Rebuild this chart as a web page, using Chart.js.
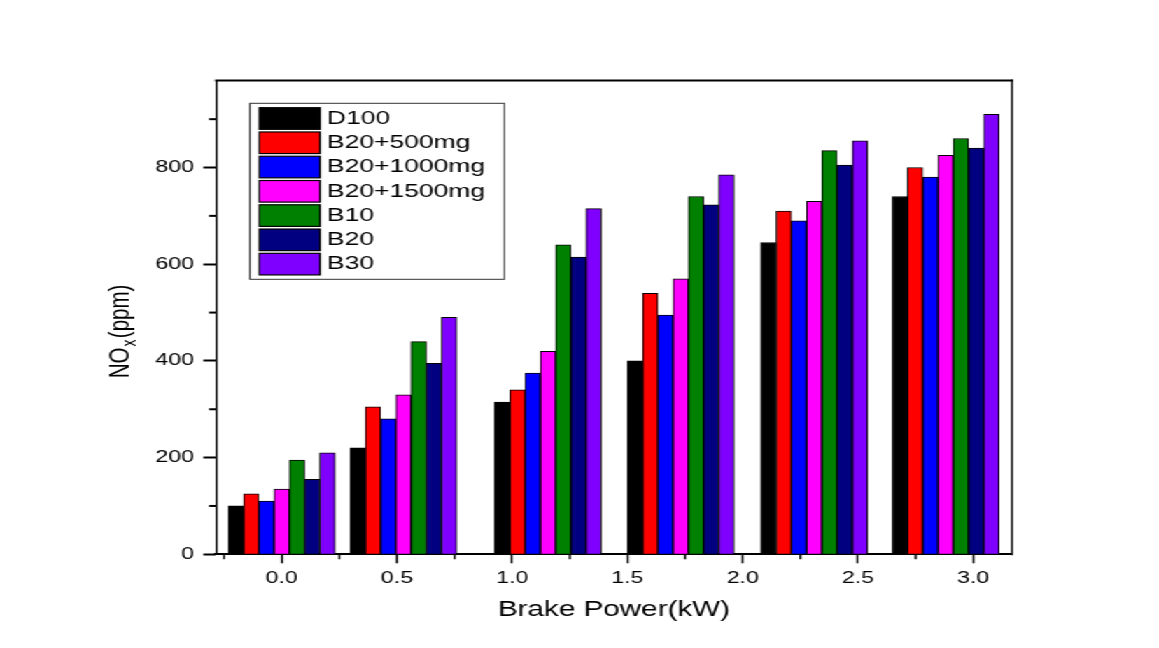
<!DOCTYPE html>
<html>
<head>
<meta charset="utf-8">
<script src="https://cdn.jsdelivr.net/npm/chart.js@4.4.1/dist/chart.umd.min.js"></script>
<style>
html,body{margin:0;padding:0;background:#fff;overflow:hidden;width:1159px;height:648px;}
#wrap{position:absolute;left:0;top:0;width:828px;height:648px;transform:scaleX(1.399758);transform-origin:0 0;background:#fff;}
canvas{display:block;}
</style>
</head>
<body>
<div id="wrap"><canvas id="c"></canvas></div>
<script>
// ---- data ----
const brakePower = [0, 0.528, 1.155, 1.731, 2.310, 2.880];
const seriesNames = ['D100', 'B20+500mg', 'B20+1000mg', 'B20+1500mg', 'B10', 'B20', 'B30'];
const D100     = [100, 220, 315, 400, 645, 740];
const B20_500  = [125, 305, 340, 540, 710, 800];
const B20_1000 = [110, 280, 375, 495, 690, 780];
const B20_1500 = [135, 330, 420, 570, 730, 825];
const B10      = [195, 440, 640, 740, 835, 860];
const B20      = [155, 395, 615, 723, 805, 840];
const B30      = [210, 490, 715, 785, 855, 910];
const seriesValues = [D100, B20_500, B20_1000, B20_1500, B10, B20, B30];
const seriesColors = ['#000000', '#FF0000', '#0000FF', '#FF00FF', '#008000', '#000080', '#8000FF'];

const xTicks = [0, 0.5, 1.0, 1.5, 2.0, 2.5, 3.0];
const xTickLabels = ['0.0', '0.5', '1.0', '1.5', '2.0', '2.5', '3.0'];
const xMinorTicks = [-0.25, 0.25, 0.75, 1.25, 1.75, 2.25, 2.75];
const yTicks = [0, 200, 400, 600, 800];
const yTickLabels = ['0', '200', '400', '600', '800'];
const yMinorTicks = [100, 300, 500, 700, 900];
const xTitle = 'Brake Power(kW)';
const yTitleMain = 'NO', yTitleSub = 'x', yTitleRest = '(ppm)';

// ---- layout (canvas is drawn narrow and stretched horizontally) ----
const STRETCH = 1159 / 828;
const FONT = "'Liberation Sans', Arial, Helvetica, sans-serif";
const AREA = { left: 216 / STRETCH, right: 1012 / STRETCH, top: 80.5, bottom: 554.3 };

const datasets = seriesNames.map((name, k) => ({
  label: name,
  data: brakePower.map((x, i) => ({ x: x, y: seriesValues[k][i] })),
  backgroundColor: seriesColors[k],
  borderColor: '#000',
  borderWidth: 1,
  barThickness: 15.24 / STRETCH
}));

const framePlugin = {
  id: 'frame',
  afterDraw(chart) {
    const { ctx, chartArea: a } = chart;
    const xs = chart.scales.x, ys = chart.scales.y;
    ctx.save();
    ctx.strokeStyle = '#000';
    ctx.lineWidth = 2;
    ctx.beginPath(); ctx.moveTo(a.left - 0.7, a.top); ctx.lineTo(a.right + 0.7, a.top); ctx.stroke();
    ctx.lineWidth = 2 / STRETCH;
    ctx.beginPath(); ctx.moveTo(a.right, a.top - 1); ctx.lineTo(a.right, a.bottom + 1); ctx.stroke();
    // minor ticks
    ctx.lineWidth = 2 / STRETCH;
    xMinorTicks.forEach(v => {
      const p = xs.getPixelForValue(v);
      if (p < a.left || p > a.right) return;
      ctx.beginPath(); ctx.moveTo(p, a.bottom); ctx.lineTo(p, a.bottom + 5); ctx.stroke();
    });
    ctx.lineWidth = 2;
    yMinorTicks.forEach(v => {
      const p = ys.getPixelForValue(v);
      ctx.beginPath(); ctx.moveTo(a.left, p); ctx.lineTo(a.left - 5, p); ctx.stroke();
    });
    // y title with subscript
    const f = 20.5, fs = 14, gap = 1.2;
    ctx.fillStyle = '#000';
    ctx.textBaseline = 'alphabetic';
    ctx.textAlign = 'left';
    ctx.font = f + 'px ' + FONT;
    const w1 = ctx.measureText(yTitleMain).width;
    const w3 = ctx.measureText(yTitleRest).width;
    ctx.font = fs + 'px ' + FONT;
    const w2 = ctx.measureText(yTitleSub).width;
    const total = w1 + gap + w2 + gap + w3;
    ctx.translate(92, 331.5);
    ctx.rotate(-Math.PI / 2);
    let u = -total / 2;
    ctx.font = f + 'px ' + FONT;
    ctx.fillText(yTitleMain, u, 0); u += w1 + gap;
    ctx.font = fs + 'px ' + FONT;
    ctx.fillText(yTitleSub, u, 4.5); u += w2 + gap;
    ctx.font = f + 'px ' + FONT;
    ctx.fillText(yTitleRest, u, 0);
    ctx.restore();
  }
};

const LEG = {
  x: 250 / STRETCH, y: 103.3, w: (504.3 - 250) / STRETCH, h: 176,
  swX: 259.3 / STRETCH, swW: (320 - 259.3) / STRETCH, swTop: 107.7, swH: 21.6, rowH: 24.27,
  textX: 327 / STRETCH, font: 18.9
};
const legendPlugin = {
  id: 'boxLegend',
  afterDraw(chart) {
    const ctx = chart.ctx;
    ctx.save();
    ctx.strokeStyle = '#333';
    ctx.lineWidth = 1;
    ctx.strokeRect(LEG.x, LEG.y, LEG.w, LEG.h);
    ctx.font = LEG.font + 'px ' + FONT;
    ctx.textBaseline = 'middle';
    ctx.textAlign = 'left';
    chart.data.datasets.forEach((ds, i) => {
      const top = LEG.swTop + i * LEG.rowH;
      ctx.fillStyle = ds.backgroundColor;
      ctx.fillRect(LEG.swX, top, LEG.swW, LEG.swH);
      ctx.strokeStyle = '#000';
      ctx.lineWidth = 1.2;
      ctx.strokeRect(LEG.swX, top, LEG.swW, LEG.swH);
      ctx.fillStyle = '#000';
      ctx.fillText(ds.label, LEG.textX, top + LEG.swH / 2);
    });
    ctx.restore();
  }
};

new Chart(document.getElementById('c'), {
  type: 'bar',
  data: { datasets: datasets },
  plugins: [framePlugin, legendPlugin],
  options: {
    responsive: true,
    maintainAspectRatio: false,
    animation: false,
    layout: { padding: { left: 0, top: AREA.top, right: 828 - AREA.right, bottom: 0 } },
    plugins: { legend: { display: false }, tooltip: { enabled: false } },
    scales: {
      x: {
        type: 'linear',
        min: -0.285,
        max: 3.168,
        offset: false,
        afterFit: s => { s.height = 648 - AREA.bottom; },
        afterBuildTicks: s => { s.ticks = xTicks.map(v => ({ value: v })); },
        grid: { display: true, offset: false, drawOnChartArea: false, drawTicks: true, tickLength: 9, tickWidth: 2 / STRETCH, tickColor: '#000' },
        border: { display: true, color: '#000', width: 2 },
        ticks: {
          autoSkip: false, maxRotation: 0, padding: 5.4, color: '#000',
          font: { family: FONT, size: 16.5 },
          callback: (v) => { const i = xTicks.indexOf(v); return i >= 0 ? xTickLabels[i] : ''; }
        },
        title: { display: true, text: xTitle, color: '#000', font: { family: FONT, size: 21.2 }, padding: { top: 0, bottom: 25.4 } }
      },
      y: {
        type: 'linear',
        min: 0,
        max: 980,
        afterFit: s => { s.width = AREA.left; },
        afterBuildTicks: s => { s.ticks = yTicks.map(v => ({ value: v })); },
        grid: { display: true, drawOnChartArea: false, drawTicks: true, tickLength: 9, tickWidth: 2, tickColor: '#000' },
        border: { display: true, color: '#000', width: 2 / STRETCH },
        ticks: {
          autoSkip: false, padding: 6.7, color: '#000',
          font: { family: FONT, size: 16.5 },
          callback: (v) => { const i = yTicks.indexOf(v); return i >= 0 ? yTickLabels[i] : ''; }
        }
      }
    }
  }
});
</script>
</body>
</html>
